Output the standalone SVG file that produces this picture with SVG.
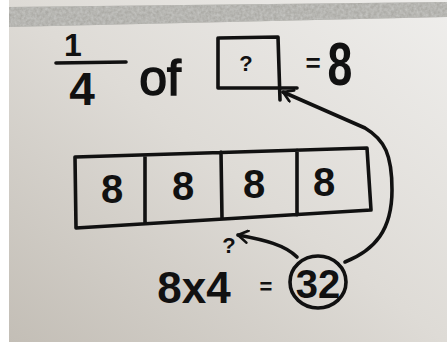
<svg xmlns="http://www.w3.org/2000/svg" width="447" height="342" viewBox="0 0 447 342">
<defs>
<linearGradient id="bg" x1="0" y1="1" x2="1" y2="0">
<stop offset="0" stop-color="#c3beb6"/>
<stop offset="0.5" stop-color="#dedbd6"/>
<stop offset="1" stop-color="#efeeec"/>
</linearGradient>
<filter id="tex" x="0" y="0" width="1" height="1">
<feTurbulence type="fractalNoise" baseFrequency="0.35" numOctaves="2" seed="3" result="n"/>
<feColorMatrix in="n" type="matrix" values="0 0 0 0 0.55  0 0 0 0 0.55  0 0 0 0 0.53  0 0 0 1.4 -0.2" result="c"/>
<feComposite in="c" in2="SourceGraphic" operator="in"/>
</filter>
<marker id="chev" viewBox="0 0 12 12" refX="10" refY="6" markerWidth="4" markerHeight="4" orient="auto" markerUnits="strokeWidth">
<path d="M2,1 L10,6 L2,11" fill="none" stroke="#111" stroke-width="2.2" stroke-linecap="round" stroke-linejoin="round"/>
</marker>
</defs>
<style>
.ink{fill:none;stroke:#111;stroke-width:3.6;stroke-linecap:round;stroke-linejoin:round}
.t{font-family:"Liberation Sans","DejaVu Sans",sans-serif;fill:#111;text-anchor:middle;font-weight:bold}
.n{font-weight:normal}
</style>
<rect width="447" height="342" fill="#fff"/>
<rect x="9" y="0" width="438" height="342" fill="url(#bg)"/>
<polygon points="9,7 447,2 447,17 9,27" fill="#a9a8a3"/>
<polygon points="9,7 447,2 447,17 9,27" fill="#fff" filter="url(#tex)"/>

<g id="fraction">
<text class="t" x="73" y="56" font-size="32">1</text>
<line class="ink" x1="56" y1="63" x2="126" y2="62"/>
<text class="t" x="82" y="105" font-size="46">4</text>
</g>
<g id="of"><text class="t n" x="160" y="95" font-size="50" stroke="#111" stroke-width="1.5">of</text></g>
<g id="unknown-box">
<path class="ink" d="M219,38 L278,37 L280,100 M218,38 L218,88 L297,88"/>
<text class="t" x="246" y="71" font-size="22">?</text>
</g>
<g id="equals-eight">
<text class="t" x="313" y="72" font-size="26">=</text>
<text class="t" x="0" y="0" font-size="62" transform="translate(340,85) scale(0.72,1)">8</text>
</g>
<g id="strip">
<path class="ink" d="M75,157 L367,148 L371,210 L76,228 Z M145,155 L145,224 M221,152 L222,219 M297,150 L297,215"/>
<text class="t" x="112" y="203" font-size="40">8</text>
<text class="t" x="183" y="200" font-size="40">8</text>
<text class="t" x="254" y="198" font-size="40">8</text>
<text class="t" x="324" y="196" font-size="40">8</text>
</g>
<g id="question-mark"><text class="t" x="229" y="253" font-size="22">?</text></g>
<g id="product">
<text class="t" x="194" y="303" font-size="44">8x4</text>
<text class="t" x="266" y="294" font-size="22">=</text>
<ellipse class="ink" cx="318" cy="282" rx="28" ry="26"/>
<text class="t" x="318" y="298" font-size="40">32</text>
</g>
<g id="connectors">
<path class="ink" d="M345,262 C375,250 392,230 392,190 C392,155 385,140 365,128 L283,92" marker-end="url(#chev)"/>
<path class="ink" d="M297,257 C285,245 265,240 238,235" marker-end="url(#chev)"/>
</g>
</svg>
